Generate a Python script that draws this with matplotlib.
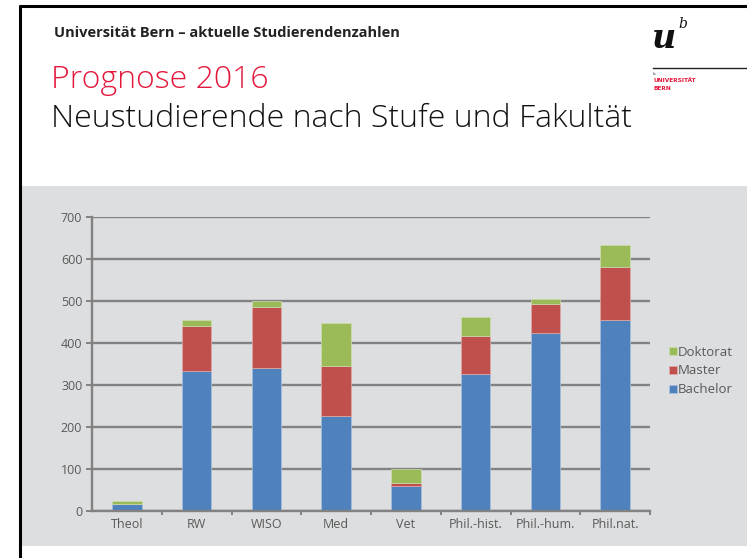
import numpy as np
import matplotlib.pyplot as plt
from matplotlib.patches import Rectangle

# Daten
fakultaeten = ["Theol", "RW", "WISO", "Med", "Vet", "Phil.-hist.", "Phil.-hum.", "Phil.nat."]
bachelor = [15, 334, 340, 226, 60, 327, 423, 455]
master = [1, 107, 146, 120, 6, 89, 70, 126]
doktorat = [6, 14, 13, 102, 33, 45, 12, 52]

W, H = 747, 558
fig = plt.figure(figsize=(W / 100, H / 100), dpi=100)
fig.patch.set_facecolor("white")

def fx(px):
    return px / W

def fy(py):
    return 1 - py / H

# grauer Hintergrund als eigene Achse ganz hinten
bg = fig.add_axes([0, 0, 1, 1], zorder=-5)
bg.set_xlim(0, W)
bg.set_ylim(H, 0)
bg.axis("off")
bg.add_patch(Rectangle((21, 186), W - 21, 360, facecolor="#dddee0", edgecolor="none"))
# Rahmen der Folie
bg.plot([19, W], [6, 6], color="black", lw=2.2, solid_capstyle="butt")
bg.plot([20, 20], [5, H], color="black", lw=2.2, solid_capstyle="butt")
# Logo-Linie
bg.plot([653, W], [68, 68], color="#222222", lw=1)

# Kopfzeilen
fig.text(fx(54), fy(33), "Universität Bern – aktuelle Studierendenzahlen", fontsize=10.5,
         fontweight="bold", family="Open Sans", color="#222222", va="center")
fig.text(fx(51), fy(80), "Prognose 2016", fontsize=23, family="Open Sans", fontweight="light",
         color="#e4183c", va="center")
fig.text(fx(51), fy(119), "Neustudierende nach Stufe und Fakultät", fontsize=23, family="Open Sans",
         fontweight="light", color="#111111", va="center")

# Logo
fig.text(fx(652), fy(39), "u", fontsize=24, family="DejaVu Serif", fontweight="bold",
         style="italic", color="#111111", va="center")
fig.text(fx(678), fy(24), "b", fontsize=10, family="DejaVu Serif", style="italic",
         color="#111111", va="center")
fig.text(fx(653), fy(74), "b", fontsize=3, color="#333333", va="center")
fig.text(fx(653), fy(81), "UNIVERSITÄT", fontsize=4.2, fontweight="bold", color="#e4183c", va="center")
fig.text(fx(653), fy(88.5), "BERN", fontsize=4.2, fontweight="bold", color="#e4183c", va="center")

# Diagramm
ax = fig.add_axes([fx(92), fy(510.7), fx(650) - fx(92), fy(217) - fy(510.7)])
ax.patch.set_visible(False)
x = np.arange(len(fakultaeten))
b = np.array(bachelor)
m = np.array(master)
d = np.array(doktorat)
bw = 0.42
ax.bar(x, b, bw, color="#4f81bd", edgecolor="#a8c0de", linewidth=0.5, label="Bachelor", zorder=3)
ax.bar(x, m, bw, bottom=b, color="#c0504d", edgecolor="#e0a8a6", linewidth=0.5, label="Master", zorder=3)
ax.bar(x, d, bw, bottom=b + m, color="#9bbb59", edgecolor="#cddcad", linewidth=0.5, label="Doktorat", zorder=3)

ax.set_xlim(-0.5, len(fakultaeten) - 0.5)
ax.set_ylim(0, 700)
ax.set_yticks(range(0, 701, 100))
ax.set_xticks(x)
ax.set_xticklabels(fakultaeten)
ax.set_xticks(np.arange(0.5, len(fakultaeten), 1), minor=True)

grau = "#828282"
ax.yaxis.grid(True, color=grau, lw=1.7, zorder=1)
ax.set_axisbelow(True)
for s in ["top", "right"]:
    ax.spines[s].set_visible(False)
for s in ["left", "bottom"]:
    ax.spines[s].set_color(grau)
    ax.spines[s].set_linewidth(1.7)
    ax.spines[s].set_zorder(4)
ax.tick_params(axis="y", length=4, width=1.4, color=grau, labelcolor="#595959", labelsize=9, pad=3)
ax.tick_params(axis="x", which="major", length=0, labelcolor="#595959", labelsize=9, pad=5)
ax.tick_params(axis="x", which="minor", length=3, width=1.4, color=grau)
for lab in ax.get_xticklabels() + ax.get_yticklabels():
    lab.set_family("Open Sans")

h, l = ax.get_legend_handles_labels()
leg = fig.legend(h[::-1], l[::-1], loc="center left", bbox_to_anchor=(fx(669), fy(371)),
                 frameon=False, handlelength=0.6, handleheight=0.6,
                 handletextpad=0.1, labelspacing=0.45, borderaxespad=0, borderpad=0,
                 prop={"family": "Open Sans", "size": 9.5})
for t in leg.get_texts():
    t.set_color("#595959")

fig.savefig("out.png", dpi=100)
